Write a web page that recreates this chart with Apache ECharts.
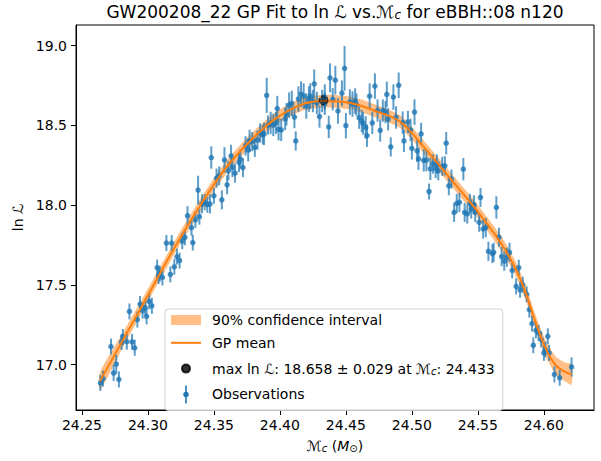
<!DOCTYPE html>
<html><head><meta charset="utf-8">
<script src="https://cdn.jsdelivr.net/npm/echarts@6/dist/echarts.min.js"></script>
<style>html,body{margin:0;padding:0;background:#fff}#c{width:601px;height:461px}</style>
</head><body><div id="c"></div>
<script>
// Observations: chirp mass, ln L, error
const mc = [24.264,24.266,24.272,24.274,24.276,24.278,24.280,24.281,24.284,24.286,24.288,24.290,24.292,24.294,24.296,24.298,24.299,24.301,24.303,24.307,24.308,24.309,24.311,24.314,24.317,24.318,24.320,24.322,24.324,24.326,24.328,24.330,24.333,24.334,24.336,24.338,24.339,24.341,24.343,24.345,24.347,24.348,24.350,24.352,24.354,24.356,24.358,24.360,24.361,24.363,24.364,24.366,24.369,24.370,24.372,24.374,24.376,24.377,24.379,24.381,24.383,24.385,24.387,24.388,24.390,24.391,24.393,24.395,24.397,24.398,24.399,24.401,24.404,24.405,24.407,24.409,24.411,24.412,24.414,24.416,24.418,24.420,24.422,24.423,24.425,24.426,24.428,24.430,24.432,24.434,24.434,24.437,24.438,24.440,24.442,24.444,24.447,24.449,24.450,24.453,24.455,24.457,24.458,24.460,24.462,24.463,24.465,24.466,24.468,24.470,24.472,24.474,24.476,24.478,24.480,24.481,24.482,24.484,24.486,24.488,24.490,24.493,24.494,24.497,24.499,24.500,24.502,24.504,24.505,24.507,24.509,24.511,24.513,24.514,24.516,24.518,24.519,24.520,24.523,24.525,24.526,24.528,24.530,24.532,24.534,24.536,24.539,24.540,24.542,24.544,24.545,24.547,24.548,24.551,24.552,24.554,24.556,24.558,24.561,24.562,24.564,24.566,24.568,24.570,24.572,24.574,24.576,24.579,24.581,24.582,24.584,24.587,24.589,24.591,24.592,24.594,24.596,24.598,24.600,24.601,24.603,24.604,24.608,24.612,24.621];
const lnL = [16.886,16.913,17.114,16.948,17.003,16.908,17.143,17.174,17.144,17.334,17.143,17.106,17.283,17.380,17.339,17.358,17.303,17.397,17.369,17.609,17.556,17.570,17.547,17.763,17.566,17.763,17.614,17.678,17.653,17.775,17.799,17.934,17.859,17.766,17.908,18.095,17.928,18.009,18.019,18.003,18.008,18.299,18.059,18.170,18.184,18.034,18.284,18.128,18.216,18.309,18.236,18.201,18.268,18.289,18.236,18.372,18.345,18.403,18.399,18.363,18.408,18.453,18.441,18.447,18.689,18.503,18.516,18.503,18.516,18.606,18.476,18.472,18.541,18.570,18.628,18.638,18.553,18.403,18.666,18.697,18.684,18.622,18.666,18.684,18.653,18.761,18.641,18.556,18.653,18.678,18.636,18.491,18.799,18.664,18.784,18.591,18.703,18.858,18.499,18.647,18.634,18.653,18.631,18.549,18.528,18.513,18.488,18.436,18.684,18.516,18.747,18.594,18.469,18.593,18.584,18.695,18.539,18.366,18.678,18.550,18.752,18.518,18.403,18.522,18.472,18.356,18.584,18.341,18.291,18.447,18.281,18.283,18.086,18.228,18.258,18.230,18.258,18.216,18.244,18.247,18.389,18.122,18.164,17.955,18.011,18.018,18.226,17.955,17.945,18.011,17.976,18.003,17.955,17.893,18.049,17.851,17.859,17.711,17.697,17.705,17.986,17.799,17.678,17.649,17.674,17.705,17.591,17.491,17.608,17.470,17.501,17.441,17.345,17.258,17.122,17.216,17.199,17.158,17.074,17.095,17.178,17.074,16.939,16.918,16.986];
const lnLErr = [0.05,0.05,0.05,0.05,0.06,0.05,0.05,0.05,0.05,0.05,
0.05,0.05,0.05,0.05,0.05,0.05,0.05,0.05,0.05,0.05,
0.05,0.05,0.05,0.05,0.05,0.05,0.05,0.05,0.05,0.05,
0.05,0.06,0.05,0.05,0.05,0.09,0.05,0.06,0.05,0.05,
0.06,0.07,0.05,0.06,0.06,0.06,0.08,0.06,0.06,0.07,
0.06,0.06,0.06,0.06,0.06,0.06,0.07,0.07,0.06,0.06,
0.06,0.06,0.06,0.07,0.11,0.06,0.07,0.07,0.07,0.08,
0.07,0.07,0.07,0.07,0.08,0.08,0.07,0.06,0.08,0.08,
0.08,0.08,0.08,0.08,0.07,0.09,0.07,0.07,0.07,0.08,
0.07,0.07,0.09,0.07,0.09,0.08,0.08,0.14,0.08,0.08,
0.08,0.08,0.07,0.07,0.07,0.07,0.07,0.07,0.08,0.07,
0.08,0.07,0.07,0.07,0.07,0.08,0.07,0.06,0.08,0.07,
0.08,0.07,0.07,0.07,0.07,0.07,0.08,0.07,0.07,0.07,
0.07,0.07,0.05,0.07,0.06,0.06,0.06,0.06,0.06,0.06,
0.07,0.06,0.06,0.06,0.06,0.06,0.07,0.06,0.06,0.06,
0.06,0.06,0.06,0.06,0.06,0.06,0.06,0.06,0.06,0.06,
0.07,0.06,0.06,0.06,0.06,0.06,0.05,0.05,0.05,0.05,
0.05,0.05,0.05,0.05,0.05,0.05,0.05,0.05,0.05,0.05,
0.05,0.05,0.05,0.05,0.06];
// GP fit
const gpX = [24.2637,24.2826,24.3016,24.3206,24.3395,24.3585,24.3775,24.3964,24.4154,24.4321,24.4533,24.4723,24.4913,24.5102,24.5292,24.5482,24.5672,24.5785,24.5861,24.5937,24.6013,24.6089,24.6165,24.6210];
const gpMean = [16.897,17.178,17.459,17.741,17.997,18.228,18.403,18.541,18.628,18.653,18.641,18.591,18.522,18.353,18.166,17.978,17.766,17.603,17.453,17.266,17.103,16.997,16.953,16.940];
const gpHalf = [0.055,0.045,0.04,0.04,0.04,0.04,0.04,0.04,0.04,0.04,0.04,0.04,0.04,0.04,0.04,0.04,0.045,0.045,0.045,0.045,0.05,0.055,0.06,0.065];
const maxPoint = [24.433, 18.658];
const xTicks = [24.25,24.30,24.35,24.40,24.45,24.50,24.55,24.60];
const yTicks = [17.0,17.5,18.0,18.5,19.0];

const FONT = 'DejaVu Sans';
const chart = echarts.init(document.getElementById('c'), null, {renderer:'svg'});
const obs = mc.map((x,i)=>[x, lnL[i], lnLErr[i]]);
const gpLine = gpX.map((x,i)=>[x, gpMean[i]]);
const subStyle = {fontFamily:FONT, fontSize:10, fontStyle:'italic', color:'#000', verticalAlign:'bottom', padding:[5,0,0,0]};
const legendLabels = {
  'band': '90% confidence interval',
  'GP mean': 'GP mean',
  'max': '{a|max ln }{i|ℒ}{a|: 18.658 ± 0.029 at }{i|ℳ}{s|c}{a|: 24.433}',
  'Observations': 'Observations'
};
const option = {
  animation:false,
  backgroundColor:'#fff',
  title:{
    text:'{a|GW200208_22 GP Fit to ln }{i|ℒ}{a| vs.}{i|ℳ}{s|c}{a| for eBBH::08 n120}',
    left:330, top:-2, textAlign:'center',
    textStyle:{fontFamily:FONT, fontSize:17, fontWeight:'normal', color:'#000',
      rich:{a:{fontFamily:FONT,fontSize:17,color:'#000'}, i:{fontFamily:FONT,fontSize:17,color:'#000'}, s:{fontFamily:FONT,fontSize:12,fontStyle:'italic',color:'#000',verticalAlign:'bottom',padding:[6,0,0,0]}}}
  },
  grid:{left:76, right:7, top:25, bottom:51, show:true, borderColor:'#000', borderWidth:1, backgroundColor:'transparent'},
  xAxis:{type:'value', min:24.2455, max:24.638,
    axisLine:{show:true, onZero:false, lineStyle:{color:'#000', width:1}},
    axisTick:{show:true, customValues:xTicks, length:5, lineStyle:{color:'#000', width:1}},
    axisLabel:{customValues:xTicks, formatter:v=>v.toFixed(2), fontFamily:FONT, fontSize:14, color:'#000', margin:8},
    splitLine:{show:false},
    name:'{i|ℳ}{s|c}{a| (}{i|M}{s|⊙}{a|)}', nameLocation:'middle', nameGap:28,
    nameTextStyle:{fontFamily:FONT, fontSize:14, color:'#000', rich:{a:{fontFamily:FONT,fontSize:14,color:'#000'}, i:{fontFamily:FONT,fontSize:14,fontStyle:'italic',color:'#000'}, s:subStyle}}
  },
  yAxis:{type:'value', min:16.716, max:19.13,
    axisLine:{show:true, onZero:false, lineStyle:{color:'#000', width:1}},
    axisTick:{show:true, customValues:yTicks, length:5, lineStyle:{color:'#000', width:1}},
    axisLabel:{customValues:yTicks, formatter:v=>v.toFixed(1), fontFamily:FONT, fontSize:14, color:'#000', margin:9},
    splitLine:{show:false},
    name:'ln ℒ', nameLocation:'middle', nameGap:50,
    nameTextStyle:{fontFamily:FONT, fontSize:14, color:'#000'}
  },
  legend:{orient:'vertical', left:165, top:309, padding:[4,8,7,5], itemGap:6.8, itemWidth:30, itemHeight:18,
    borderColor:'#d0d0d0', borderWidth:1, borderRadius:3, backgroundColor:'rgba(255,255,255,0.8)',
    selectedMode:false,
    textStyle:{fontFamily:FONT, fontSize:14, color:'#000', padding:[0,0,0,6],
      rich:{a:{fontFamily:FONT,fontSize:14,color:'#000'}, i:{fontFamily:FONT,fontSize:14,color:'#000'}, s:subStyle}},
    formatter:n=>legendLabels[n],
    data:[
      {name:'band', icon:'path://M0,0h30v10h-30z', itemStyle:{color:'rgba(255,127,14,0.5)'}},
      {name:'GP mean', icon:'path://M0,0M30,18M0,8h30v2h-30z', itemStyle:{color:'#ff7f0e'}, lineStyle:{width:0}},
      {name:'max', icon:'path://M0,0M30,18M11,9a4,4 0 1,1 8,0a4,4 0 1,1 -8,0z', itemStyle:{color:'#000'}},
      {name:'Observations', icon:'path://M0,0M30,18M14.2,0h1.6v18h-1.6zM15,6.3a2.7,2.7 0 1,1 0,5.4a2.7,2.7 0 1,1 0,-5.4z', itemStyle:{color:'#1f77b4'}}
    ]
  },
  series:[
    {type:'custom', name:'band', coordinateSystem:'cartesian2d', data:[[gpX[0], gpMean[0]]], encode:{x:0,y:1},
      itemStyle:{color:'rgba(255,127,14,0.5)'}, z:1, silent:true,
      renderItem:(params, api)=>{
        const pts=[];
        for(let i=0;i<gpX.length;i++) pts.push(api.coord([gpX[i], gpMean[i]+gpHalf[i]]));
        for(let i=gpX.length-1;i>=0;i--) pts.push(api.coord([gpX[i], gpMean[i]-gpHalf[i]]));
        return {type:'polygon', shape:{points:pts, smooth:0.25}, style:{fill:'rgba(255,127,14,0.5)'}};
      }},
    {type:'custom', name:'Observations', coordinateSystem:'cartesian2d', data:obs, encode:{x:0,y:1}, z:2,
      itemStyle:{color:'#1f77b4'},
      renderItem:(params, api)=>{
        const x=api.value(0), y=api.value(1), e=api.value(2);
        const p1=api.coord([x,y-e]), p2=api.coord([x,y+e]);
        return {type:'line', shape:{x1:p1[0],y1:p1[1],x2:p2[0],y2:p2[1]}, style:{stroke:'rgba(31,119,180,0.72)', lineWidth:2}};
      }},
    {type:'scatter', name:'Observations', data:obs.map(o=>[o[0],o[1]]), symbolSize:5.5, itemStyle:{color:'#1f77b4'}, z:3},
    {type:'line', name:'GP mean', data:gpLine, smooth:0.4, symbol:'none', showSymbol:false, lineStyle:{color:'#ff7f0e', width:2}, itemStyle:{color:'#ff7f0e'}, z:4},
    {type:'scatter', name:'max', data:[maxPoint], symbolSize:9, itemStyle:{color:'rgba(0,0,0,0.55)', borderColor:'#000', borderWidth:1, borderType:'dashed'}, z:5}
  ]
};
chart.setOption(option);
</script></body></html>
